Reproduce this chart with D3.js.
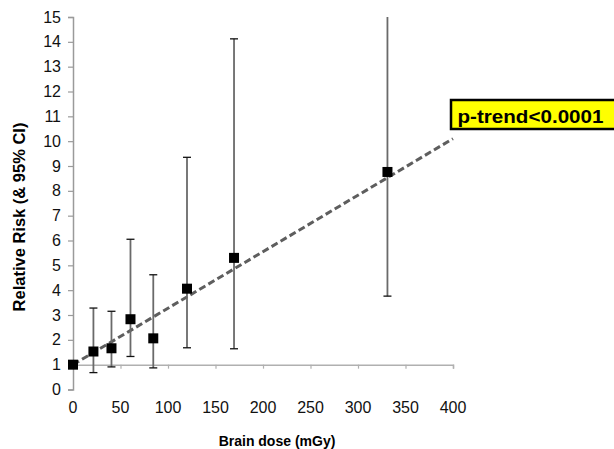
<!DOCTYPE html>
<html>
<head>
<meta charset="utf-8">
<script src="https://cdn.jsdelivr.net/npm/d3@7"></script>
<style>
  html, body { margin: 0; padding: 0; background: #fff; }
  svg { display: block; font-family: "Liberation Sans", Arial, sans-serif; }
</style>
</head>
<body>
<svg id="chart" width="614" height="449"></svg>
<script>
// Dose groups (mGy) with relative risk and 95% confidence limits
const doses   = [0, 21.5, 40.5, 60.5, 84.5, 120, 169.5, 331];
const rr      = [1.0, 1.53, 1.66, 2.83, 2.06, 4.06, 5.30, 8.76];
const ciLow   = [null, 0.68, 0.91, 1.33, 0.87, 1.68, 1.64, 3.76];
const ciHigh  = [null, 3.28, 3.15, 6.05, 4.62, 9.35, 14.12, 15.0];

// Fitted linear trend (RR at dose 0 and at dose 400)
const trendDose = [0, 400];
const trendRR   = [1.0, 10.1];

const xTicks = [0, 50, 100, 150, 200, 250, 300, 350, 400];
const yTicks = [0, 1, 2, 3, 4, 5, 6, 7, 8, 9, 10, 11, 12, 13, 14, 15];

const pLabel = "p-trend<0.0001";
const xTitle = "Brain dose (mGy)";
const yTitle = "Relative Risk (& 95% CI)";

const svg = d3.select("#chart");
const x = d3.scaleLinear().domain([0, 400]).range([73, 453]);
const y = d3.scaleLinear().domain([0, 15]).range([389.5, 17]);

// Vertical axis
const yAxis = svg.append("g")
  .attr("transform", `translate(${x(0)},0)`)
  .call(d3.axisLeft(y).tickValues(yTicks).tickSize(5).tickPadding(7).tickFormat(d3.format("d")));
yAxis.select(".domain").attr("stroke", "#9a9a9a").attr("stroke-width", 1.5);
yAxis.selectAll(".tick line").attr("stroke", "#9a9a9a").attr("stroke-width", 1.2);
yAxis.selectAll(".tick text").attr("font-size", 16).attr("fill", "#111")
  .attr("font-family", "Liberation Sans, Arial, sans-serif");

// Horizontal axis crossing at RR = 1, labels at the bottom
const xAxis = svg.append("g")
  .attr("transform", `translate(0,${y(1)})`)
  .call(d3.axisBottom(x).tickValues(xTicks).tickSize(4).tickFormat(""));
xAxis.select(".domain").attr("stroke", "#b0b0b0").attr("stroke-width", 1.5);
xAxis.selectAll(".tick line").attr("stroke", "#b0b0b0").attr("stroke-width", 1.2);

svg.append("g").selectAll("text")
  .data(xTicks).join("text")
  .attr("x", d => x(d))
  .attr("y", 413)
  .attr("text-anchor", "middle")
  .attr("font-size", 16)
  .attr("fill", "#111")
  .text(d => d);

// Axis titles
svg.append("text")
  .attr("x", 277).attr("y", 446)
  .attr("text-anchor", "middle")
  .attr("font-size", 14).attr("font-weight", "bold")
  .text(xTitle);

svg.append("text")
  .attr("transform", "translate(25,217) rotate(-90)")
  .attr("text-anchor", "middle")
  .attr("font-size", 16.5).attr("font-weight", "bold")
  .text(yTitle);

// Trend line
const line = d3.line().x(d => x(d[0])).y(d => y(d[1]));
svg.append("path")
  .datum(d3.zip(trendDose, trendRR))
  .attr("d", line)
  .attr("fill", "none")
  .attr("stroke", "#5e5e5e")
  .attr("stroke-width", 3)
  .attr("stroke-dasharray", "7,3.5");

// Confidence intervals
const points = doses.map((d, i) => ({ d, rr: rr[i], lo: ciLow[i], hi: ciHigh[i] }));
const withCI = points.filter(p => p.lo !== null);
const yMax = y.domain()[1];

svg.append("g").selectAll("line")
  .data(withCI).join("line")
  .attr("x1", p => x(p.d)).attr("x2", p => x(p.d))
  .attr("y1", p => y(Math.min(p.hi, yMax))).attr("y2", p => y(p.lo))
  .attr("stroke", "#6a6a6a").attr("stroke-width", 1.8);

const caps = [];
withCI.forEach(p => {
  caps.push({ d: p.d, v: p.lo });
  if (p.hi < yMax) caps.push({ d: p.d, v: p.hi });
});
svg.append("g").selectAll("line")
  .data(caps).join("line")
  .attr("x1", c => x(c.d) - 4).attr("x2", c => x(c.d) + 4)
  .attr("y1", c => y(c.v)).attr("y2", c => y(c.v))
  .attr("stroke", "#111").attr("stroke-width", 1.3);

// Point estimates
const s = 10;
svg.append("g").selectAll("rect")
  .data(points).join("rect")
  .attr("x", p => x(p.d) - s / 2)
  .attr("y", p => y(p.rr) - s / 2)
  .attr("width", s).attr("height", s)
  .attr("fill", "#000");

// Trend test label
svg.append("rect")
  .attr("x", 451).attr("y", 100)
  .attr("width", 200).attr("height", 29)
  .attr("fill", "#ffff00")
  .attr("stroke", "#000").attr("stroke-width", 2.5);
svg.append("text")
  .attr("x", 457.5).attr("y", 123)
  .attr("font-size", 18).attr("font-weight", "bold")
  .attr("textLength", 146).attr("lengthAdjust", "spacingAndGlyphs")
  .text(pLabel);
</script>
</body>
</html>
